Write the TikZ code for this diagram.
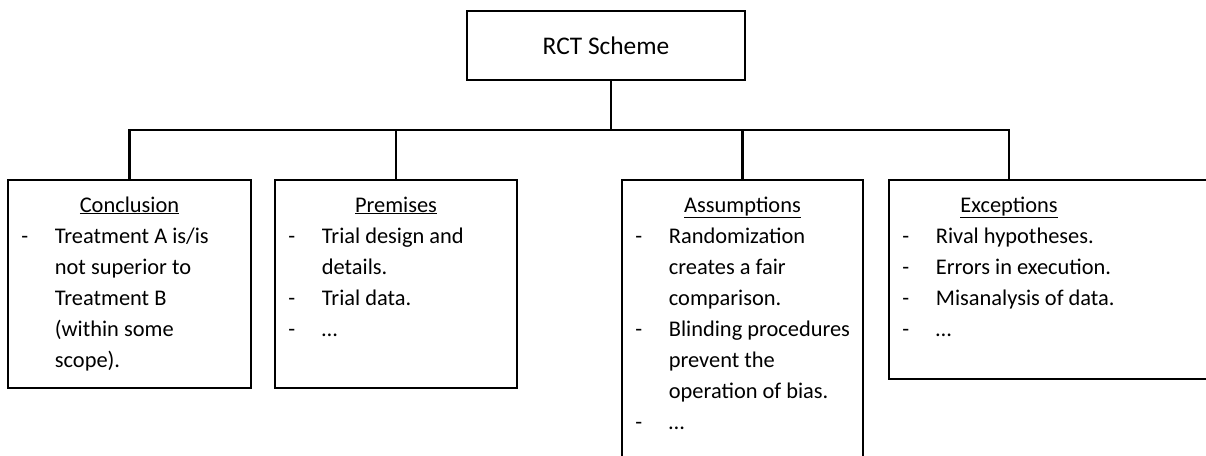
\documentclass[tikz,border=0pt]{standalone}
\usepackage{fontspec}
\setmainfont{Carlito}
\usepackage{array}
\newcommand{\bodyfont}{\fontsize{22.4}{31}\selectfont}
\begin{document}
\begin{tikzpicture}[x=1pt, y=-1pt, line width=2.8pt,
    box/.style={draw, anchor=north west, outer sep=0pt, inner sep=0pt},
    head/.style={anchor=base, inner sep=0pt, font=\bodyfont},
    items/.style={anchor=base west, inner sep=0pt, font=\bodyfont}]
  \useasboundingbox (0,0) rectangle (1206,455);

  \node[box, anchor=center, minimum width=278pt, minimum height=69pt, font=\fontsize{25.4}{31}\selectfont] (rct) at (606,45.5) {RCT Scheme};

  \node[box, minimum width=243pt, minimum height=208pt] (concl) at (8,180) {};
  \node[box, minimum width=242pt, minimum height=208pt] (prem) at (275,180) {};
  \node[box, minimum width=241pt, minimum height=300pt] (assum) at (622,180) {};
  \node[box, minimum width=330pt, minimum height=199pt] (exc) at (889,180) {};

  \node[head] (conclHead) at (129.5,212) {\underline{Conclusion}};
  \node[head] (premHead) at (396,212) {\underline{Premises}};
  \node[head] (assumHead) at (742.5,212) {\underline{Assumptions}};
  \node[head] (excHead) at (1009,212) {\underline{Exceptions}};

  \node[items] (conclList) at (20,243) {\begin{tabular}[t]{@{}p{33.5pt}@{}l@{}}
      - & Treatment A is/is\\
        & not superior to\\
        & Treatment B\\
        & (within some\\
        & scope).
    \end{tabular}};
  \node[items] (premList) at (287,243) {\begin{tabular}[t]{@{}p{33.5pt}@{}l@{}}
      - & Trial design and\\
        & details.\\
      - & Trial data.\\
      - & \dots
    \end{tabular}};
  \node[items] (assumList) at (634,243) {\begin{tabular}[t]{@{}p{33.5pt}@{}l@{}}
      - & Randomization\\
        & creates a fair\\
        & comparison.\\
      - & Blinding procedures\\
        & prevent the\\
        & operation of bias.\\
      - & \dots
    \end{tabular}};
  \node[items] (excList) at (901,243) {\begin{tabular}[t]{@{}p{33.5pt}@{}l@{}}
      - & Rival hypotheses.\\
      - & Errors in execution.\\
      - & Misanalysis of data.\\
      - & \dots
    \end{tabular}};

  \coordinate (bar) at (0,130);
  \draw ([xshift=5pt]rct.south) -- ([xshift=5pt]rct.south |- bar);
  \draw (concl.north) |- (excHead |- bar) -- (excHead |- exc.north);
  \draw (prem.north) -- (prem.north |- bar);
  \draw (assum.north) -- (assum.north |- bar);
\end{tikzpicture}
\end{document}
